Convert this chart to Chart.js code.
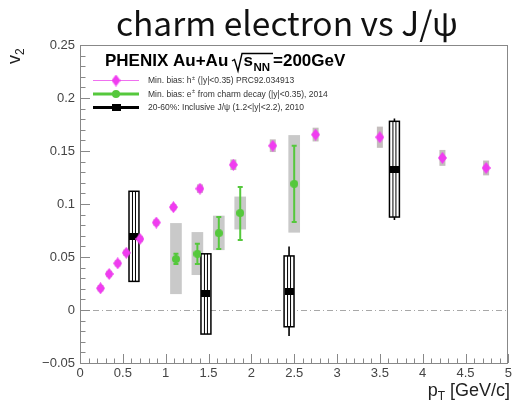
<html>
<head>
<script src="https://cdn.jsdelivr.net/npm/chart.js@4.4.0/dist/chart.umd.min.js"></script>
<style>
body { margin: 0; background: #fff; }
</style>
</head>
<body>
<canvas id="v2Chart" width="515" height="404"></canvas>
<script>

// charged hadrons, min. bias (|y|<0.35)
var hPt  = [0.24, 0.34, 0.44, 0.54, 0.70, 0.89, 1.09, 1.40, 1.79, 2.25, 2.75, 3.50, 4.23, 4.74];
var hV2  = [0.0205, 0.034, 0.044, 0.054, 0.067, 0.0825, 0.097, 0.1145, 0.137, 0.155, 0.1655, 0.163, 0.1435, 0.134];
var hSys = [0.003, 0.003, 0.003, 0.003, 0.003, 0.003, 0.003, 0.004, 0.005, 0.006, 0.0065, 0.010, 0.0075, 0.007];

// electrons from charm decay, min. bias
var ePt     = [1.12, 1.37, 1.62, 1.87, 2.50];
var eV2     = [0.048, 0.053, 0.0725, 0.0915, 0.119];
var eStatLo = [0.0045, 0.0095, 0.015, 0.0255, 0.036];
var eStatHi = [0.005, 0.0095, 0.0152, 0.0245, 0.036];
var eSysLo  = [0.033, 0.020, 0.016, 0.0155, 0.046];
var eSysHi  = [0.034, 0.0205, 0.0165, 0.0155, 0.046];

// inclusive J/psi, 20-60%
var jPt     = [0.63, 1.47, 2.44, 3.67];
var jV2     = [0.069, 0.0158, 0.0173, 0.133];
var jStatLo = [0.040, 0.036, 0.0419, 0.048];
var jStatHi = [0.040, 0.036, 0.0427, 0.0477];
var jSysLo  = [0.042, 0.0385, 0.0331, 0.0453];
var jSysHi  = [0.043, 0.0372, 0.0337, 0.045];

var xTicks = [0, 0.5, 1, 1.5, 2, 2.5, 3, 3.5, 4, 4.5, 5];
var xTickLabels = ['0', '0.5', '1', '1.5', '2', '2.5', '3', '3.5', '4', '4.5', '5'];
var yTicks = [-0.05, 0, 0.05, 0.1, 0.15, 0.2, 0.25];
var yTickLabels = ['\u22120.05', '0', '0.05', '0.1', '0.15', '0.2', '0.25'];

var MAGENTA = '#f03cf0', GREEN = '#55c83c', BOXGRAY = '#c9c9c9', HBOX = '#c4bdbd';
var FONT = '"Liberation Sans", Arial, sans-serif';

function markerCanvas(w, h, color, shape) {
  var c = document.createElement('canvas');
  c.width = w; c.height = h;
  var g = c.getContext('2d');
  g.fillStyle = color;
  g.beginPath();
  if (shape == 'diamond') {
    g.moveTo(w / 2, 0); g.lineTo(w, h / 2); g.lineTo(w / 2, h); g.lineTo(0, h / 2);
  } else if (shape == 'circle') {
    g.arc(w / 2, h / 2, w / 2, 0, 2 * Math.PI);
  } else {
    g.rect(0, 0, w, h);
  }
  g.closePath();
  g.fill();
  return c;
}
var diamond = markerCanvas(9, 12, MAGENTA, 'diamond');
var dot = markerCanvas(8, 8, GREEN, 'circle');
var square = markerCanvas(9, 7, '#000', 'rect');

function pts(xs, ys) {
  return xs.map(function (v, i) { return {x: v, y: ys[i]}; });
}

// boxes, error bars and the dash-dot zero line, under the markers
var errorBars = {
  id: 'errorBars',
  beforeDatasetsDraw: function (chart) {
    var ctx = chart.ctx, sx = chart.scales.x, sy = chart.scales.y, a = chart.chartArea;
    ctx.save();
    ctx.beginPath();
    ctx.rect(a.left, a.top, a.right - a.left, a.bottom - a.top);
    ctx.clip();

    ctx.strokeStyle = '#a8a8a8';
    ctx.lineWidth = 1;
    ctx.setLineDash([6, 3, 1, 3]);
    var y0 = Math.round(sy.getPixelForValue(0)) + 0.5;
    ctx.beginPath(); ctx.moveTo(a.left, y0); ctx.lineTo(a.right, y0); ctx.stroke();
    ctx.setLineDash([]);

    function rect(x, v, lo, hi, hw) {
      var l = sx.getPixelForValue(x - hw), r = sx.getPixelForValue(x + hw);
      var t = sy.getPixelForValue(v + hi), b = sy.getPixelForValue(v - lo);
      return [l, t, r - l, b - t];
    }

    // charm electron systematics
    ctx.fillStyle = BOXGRAY;
    ePt.forEach(function (x, i) {
      var r = rect(x, eV2[i], eSysLo[i], eSysHi[i], 0.068);
      ctx.fillRect(r[0], r[1], r[2], r[3]);
    });
    // hadron systematics
    ctx.fillStyle = HBOX;
    hPt.forEach(function (x, i) {
      var r = rect(x, hV2[i], hSys[i], hSys[i], 0.035);
      ctx.fillRect(r[0], r[1], r[2], r[3]);
    });

    // J/psi: stat line, open box, double centre line
    jPt.forEach(function (x, i) {
      var px = sx.getPixelForValue(x);
      ctx.strokeStyle = '#000';
      ctx.lineWidth = 1.6;
      ctx.beginPath();
      ctx.moveTo(px, sy.getPixelForValue(jV2[i] + jStatHi[i]));
      ctx.lineTo(px, sy.getPixelForValue(jV2[i] - jStatLo[i]));
      ctx.stroke();
      var r = rect(x, jV2[i], jSysLo[i], jSysHi[i], 0.058);
      ctx.fillStyle = '#fff';
      ctx.fillRect(r[0], r[1], r[2], r[3]);
      ctx.lineWidth = 1.5;
      ctx.strokeRect(r[0], r[1], r[2], r[3]);
      ctx.lineWidth = 1;
      ctx.beginPath();
      ctx.moveTo(px - 1.5, r[1]); ctx.lineTo(px - 1.5, r[1] + r[3]);
      ctx.moveTo(px + 1.5, r[1]); ctx.lineTo(px + 1.5, r[1] + r[3]);
      ctx.stroke();
    });

    // charm electron stat bars with caps
    ctx.strokeStyle = GREEN;
    ctx.lineWidth = 2;
    ePt.forEach(function (x, i) {
      var px = sx.getPixelForValue(x);
      var t = sy.getPixelForValue(eV2[i] + eStatHi[i]);
      var b = sy.getPixelForValue(eV2[i] - eStatLo[i]);
      ctx.beginPath();
      ctx.moveTo(px, t); ctx.lineTo(px, b);
      ctx.moveTo(px - 2.5, t); ctx.lineTo(px + 2.5, t);
      ctx.moveTo(px - 2.5, b); ctx.lineTo(px + 2.5, b);
      ctx.stroke();
    });
    ctx.restore();
  },

  afterDraw: function (chart) {
    var ctx = chart.ctx, sx = chart.scales.x, sy = chart.scales.y, a = chart.chartArea;
    ctx.save();

    // frame and inward ticks
    ctx.strokeStyle = '#888';
    ctx.lineWidth = 1;
    ctx.strokeRect(Math.round(a.left) + 0.5, Math.round(a.top) + 0.5,
                   Math.round(a.right - a.left) - 1, Math.round(a.bottom - a.top));
    ctx.beginPath();
    var i, k, v, p;
    for (i = 0; i < xTicks.length; i++) {
      for (k = 0; k < 5; k++) {
        if (i == xTicks.length - 1 && k > 0) break;
        v = xTicks[i] + k * 0.1;
        p = Math.round(sx.getPixelForValue(v)) + 0.5;
        ctx.moveTo(p, a.bottom);
        ctx.lineTo(p, a.bottom - (k == 0 ? 9 : 4.5));
      }
    }
    for (i = 0; i < yTicks.length; i++) {
      for (k = 0; k < 5; k++) {
        if (i == yTicks.length - 1 && k > 0) break;
        v = yTicks[i] + k * 0.01;
        p = Math.round(sy.getPixelForValue(v)) + 0.5;
        ctx.moveTo(a.left, p);
        ctx.lineTo(a.left + (k == 0 ? 10 : 5.5), p);
      }
    }
    ctx.stroke();

    // page title
    ctx.fillStyle = '#111';
    ctx.font = '33.5px "Noto Sans CJK JP", "Noto Sans", sans-serif';
    ctx.textAlign = 'center';
    ctx.textBaseline = 'alphabetic';
    ctx.fillText('charm electron vs J/\u03c8', 287, 36);

    // axis titles
    ctx.textAlign = 'left';
    ctx.fillStyle = '#222';
    ctx.save();
    ctx.translate(20, 64);
    ctx.rotate(-Math.PI / 2);
    ctx.font = '18px ' + FONT;
    ctx.fillText('v', 0, 0);
    var vw = ctx.measureText('v').width;
    ctx.font = '12px ' + FONT;
    ctx.fillText('2', vw, 4);
    ctx.restore();

    ctx.font = '18px ' + FONT;
    var rest = ' [GeV/c]';
    var rw = ctx.measureText(rest).width;
    var pw = ctx.measureText('p').width;
    ctx.font = '12px ' + FONT;
    var tw = ctx.measureText('T').width;
    var xs = 510 - rw - tw - pw;
    ctx.font = '18px ' + FONT;
    ctx.fillText('p', xs, 396);
    ctx.fillText(rest, xs + pw + tw, 396);
    ctx.font = '12px ' + FONT;
    ctx.fillText('T', xs + pw, 400);

    // legend header
    ctx.fillStyle = '#000';
    ctx.font = 'bold 17px ' + FONT;
    ctx.fillText('PHENIX Au+Au', 105, 66);
    ctx.strokeStyle = '#000';
    ctx.lineWidth = 1.4;
    ctx.beginPath();
    ctx.moveTo(232, 61); ctx.lineTo(234.5, 59.5); ctx.lineTo(238, 71);
    ctx.lineTo(242, 53.5); ctx.lineTo(273, 53.5);
    ctx.stroke();
    ctx.fillText('s', 243.5, 66);
    ctx.font = 'bold 11.5px ' + FONT;
    ctx.fillText('NN', 253.5, 71);
    ctx.font = 'bold 17px ' + FONT;
    ctx.fillText('=200GeV', 273, 66);

    // legend entries
    var rows = [
      {y: 80.5, color: '#f070f0', lw: 1, img: diamond, pre: 'Min. bias: h', post: ' (|y|<0.35) PRC92.034913'},
      {y: 94, color: GREEN, lw: 3, img: dot, pre: 'Min. bias: e', post: ' from charm decay (|y|<0.35), 2014'},
      {y: 107.5, color: '#000', lw: 3, img: square, pre: '20-60%: Inclusive J/\u03c8 (1.2<|y|<2.2), 2010', post: null}
    ];
    rows.forEach(function (r) {
      ctx.strokeStyle = r.color;
      ctx.lineWidth = r.lw;
      ctx.beginPath(); ctx.moveTo(93, r.y); ctx.lineTo(139, r.y); ctx.stroke();
      ctx.drawImage(r.img, 116 - r.img.width / 2, r.y - r.img.height / 2);
      ctx.fillStyle = '#333';
      ctx.font = '8.5px ' + FONT;
      ctx.textBaseline = 'middle';
      ctx.fillText(r.pre, 148, r.y + 0.5);
      if (r.post) {
        var w = ctx.measureText(r.pre).width;
        ctx.font = '5.5px ' + FONT;
        ctx.fillText('\u00b1', 148 + w + 0.5, r.y - 2.5);
        var sw = ctx.measureText('\u00b1').width;
        ctx.font = '8.5px ' + FONT;
        ctx.fillText(r.post, 148 + w + sw + 1, r.y + 0.5);
      }
    });
    ctx.restore();
  }
};

Chart.defaults.font.family = FONT;

new Chart(document.getElementById('v2Chart'), {
  type: 'scatter',
  data: {
    datasets: [
      {label: 'h', data: pts(hPt, hV2), pointStyle: diamond},
      {label: 'e', data: pts(ePt, eV2), pointStyle: dot},
      {label: 'J/psi', data: pts(jPt, jV2), pointStyle: square}
    ]
  },
  options: {
    responsive: false,
    animation: false,
    events: [],
    layout: {padding: {top: 45, right: 4, left: 0, bottom: 0}},
    plugins: {legend: {display: false}, tooltip: {enabled: false}},
    scales: {
      x: {
        type: 'linear', min: 0, max: 5,
        afterBuildTicks: function (s) { s.ticks = xTicks.map(function (v) { return {value: v}; }); },
        afterFit: function (s) { s.height = 41; },
        grid: {display: false, drawTicks: false},
        border: {display: false},
        ticks: {
          autoSkip: false, maxRotation: 0, padding: 3,
          color: '#444', font: {size: 13},
          callback: function (v, i) { return xTickLabels[i]; }
        }
      },
      y: {
        type: 'linear', min: -0.05, max: 0.25,
        afterBuildTicks: function (s) { s.ticks = yTicks.map(function (v) { return {value: v}; }); },
        afterFit: function (s) { s.width = 80; },
        grid: {display: false, drawTicks: false},
        border: {display: false},
        ticks: {
          autoSkip: false, padding: 5,
          color: '#444', font: {size: 13},
          callback: function (v, i) { return yTickLabels[i]; }
        }
      }
    }
  },
  plugins: [errorBars]
});
</script>
</body>
</html>
